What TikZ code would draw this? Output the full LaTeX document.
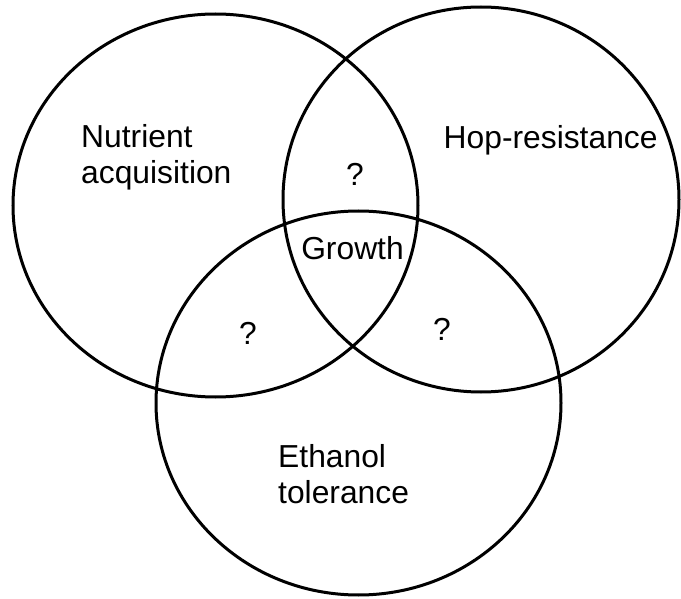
\documentclass[tikz,border=0pt]{standalone}
\usepackage{fontspec}
\setmainfont{Liberation Sans}
\begin{document}
\begin{tikzpicture}[x=1pt,y=-1pt,
  venn/.style={draw=black,line width=3pt},
  lbl/.style={inner sep=0pt,font=\fontsize{31.8}{35.5}\selectfont,align=left}]
\useasboundingbox (0,0) rectangle (681,599);
\draw[venn] (215.5,205.5) ellipse [x radius=202.5, y radius=191.5];
\draw[venn] (481,199.5) ellipse [x radius=198, y radius=192.5];
\draw[venn] (358.5,403) ellipse [x radius=202.5, y radius=192];
\node[lbl,anchor=north west] (nut) at (81,124.5) {Nutrient\\acquisition};
\node[lbl,anchor=north west] (hop) at (443.5,125.5) {Hop-resistance};
\node[lbl,anchor=north west] (eth) at (278,444.5) {Ethanol\\tolerance};
\node[lbl] (grow) at (352.5,248.5) {Growth};
\node[lbl] (q1) at (355,174) {?};
\node[lbl] (q2) at (248,333) {?};
\node[lbl] (q3) at (442,329) {?};
\end{tikzpicture}
\end{document}
